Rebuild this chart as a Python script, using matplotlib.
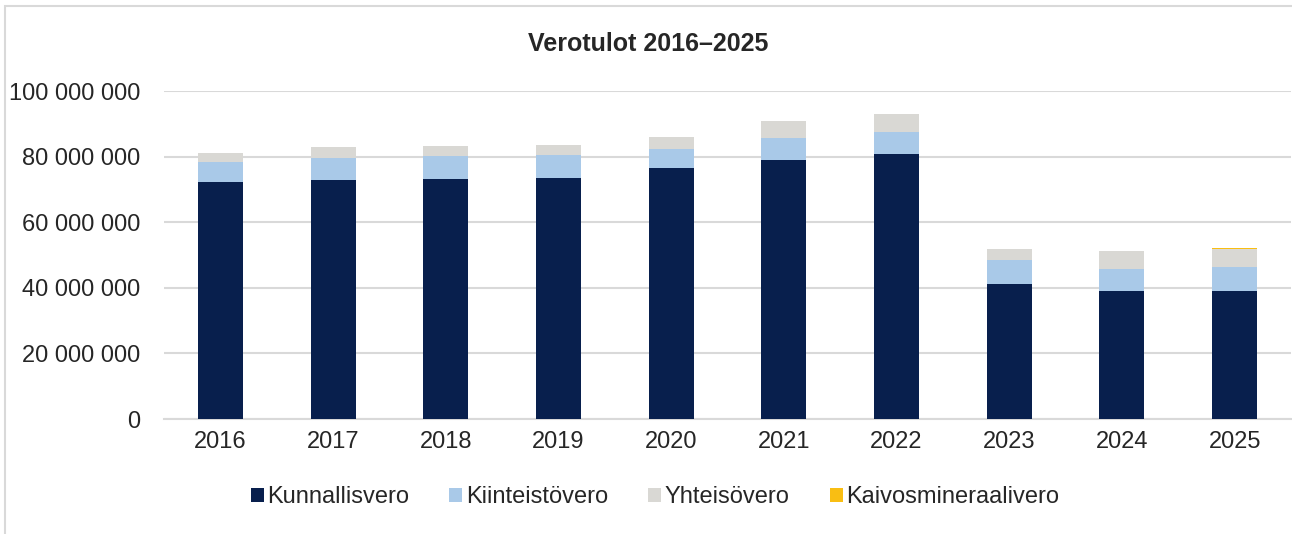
import numpy as np
import matplotlib.pyplot as plt
from matplotlib.patches import Rectangle
from matplotlib.ticker import FuncFormatter, MultipleLocator

plt.rcParams['font.family'] = ['Liberation Sans', 'DejaVu Sans']

# Verotulot vuosittain (euroa), luettu kuvasta
vuodet = ['2016', '2017', '2018', '2019', '2020', '2021', '2022', '2023', '2024', '2025']
kunnallisvero = [72.3, 73.0, 73.3, 73.6, 76.4, 79.1, 80.9, 41.3, 39.0, 39.0]
kiinteistovero = [6.2, 6.7, 7.0, 7.0, 6.0, 6.7, 6.7, 7.2, 6.8, 7.4]
yhteisovero = [2.7, 3.3, 3.0, 3.0, 3.6, 5.0, 5.3, 3.3, 5.3, 5.4]
kaivosmineraalivero = [0, 0, 0, 0, 0, 0, 0, 0, 0, 0.3]

sarjat = [
    ('Kunnallisvero', kunnallisvero, '#081F4D'),
    ('Kiinteistövero', kiinteistovero, '#A9C9E8'),
    ('Yhteisövero', yhteisovero, '#D9D8D4'),
    ('Kaivosmineraalivero', kaivosmineraalivero, '#F9BE13'),
]

W, H = 1292, 534
fig = plt.figure(figsize=(W / 100, H / 100), dpi=100)
ax = fig.add_axes([164 / W, 1 - 419 / H, (1291 - 164) / W, (419 - 91) / H])

x = np.arange(len(vuodet))
pohja = np.zeros(len(vuodet))
for nimi, arvot, vari in sarjat:
    v = np.array(arvot) * 1e6
    ax.bar(x, v, bottom=pohja, width=0.4, color=vari, label=nimi, zorder=3)
    pohja += v

ax.set_xlim(-0.5, len(vuodet) - 0.5)
ax.set_ylim(0, 100e6)
ax.yaxis.set_major_locator(MultipleLocator(20e6))
ax.yaxis.set_major_formatter(FuncFormatter(lambda v, p: f"{int(round(v)):,}".replace(",", " ")))
ax.set_xticks(x)
ax.set_xticklabels(vuodet)
ax.grid(axis='y', color='#D9D9D9', linewidth=1.5, zorder=0)
for s in ['top', 'right', 'left']:
    ax.spines[s].set_visible(False)
ax.spines['bottom'].set_color('#D9D9D9')
ax.spines['bottom'].set_linewidth(1.5)
ax.tick_params(axis='both', length=0, labelsize=17, colors='#262626')
ax.tick_params(axis='y', pad=17)
ax.tick_params(axis='x', pad=9)

fig.text(0.502, 1 - 44 / H, 'Verotulot 2016–2025', ha='center', va='center',
         fontsize=18, fontweight='bold', color='#262626')

leg = fig.legend(loc='center', bbox_to_anchor=(0.507, 1 - 497 / H), ncol=4, frameon=False,
                 fontsize=17, handlelength=0.55, handleheight=0.55, handletextpad=0.15,
                 columnspacing=1.7)
for t in leg.get_texts():
    t.set_color('#262626')

fig.patches.append(Rectangle((5 / W, -0.1), 1.0, 1.1 - 6 / H, transform=fig.transFigure,
                             fill=False, edgecolor='#D9D9D9', linewidth=1.5))

fig.savefig('out.png', dpi=100)
